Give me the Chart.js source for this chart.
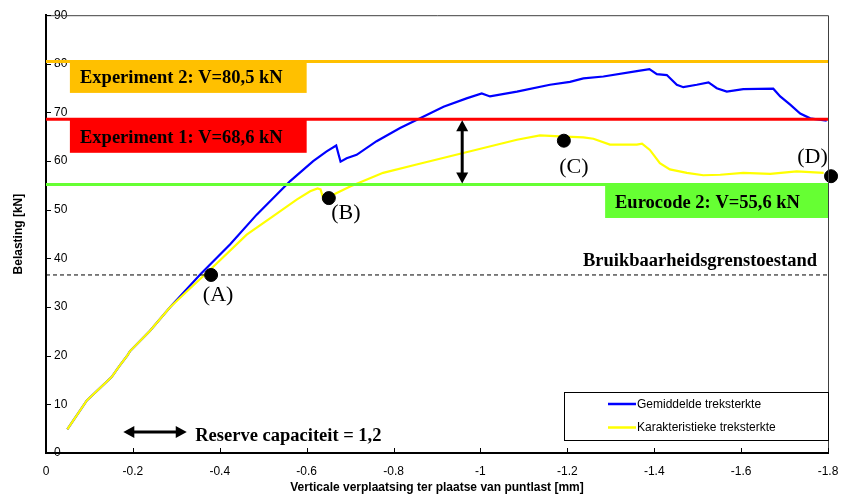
<!DOCTYPE html>
<html><head><meta charset="utf-8">
<script src="https://cdn.jsdelivr.net/npm/chart.js@4/dist/chart.umd.min.js"></script>
<style>html,body{margin:0;padding:0;background:#fff;}canvas{display:block;}</style>
</head><body>
<canvas id="c" width="841" height="499"></canvas>
<script>
// ---- data ----
const xTickValues = [0, -0.2, -0.4, -0.6, -0.8, -1, -1.2, -1.4, -1.6, -1.8];
const yTickValues = [0, 10, 20, 30, 40, 50, 60, 70, 80, 90];
const seriesNames = ['Gemiddelde treksterkte', 'Karakteristieke treksterkte'];

const blueX = [-0.049,-0.094,-0.151,-0.170,-0.187,-0.193,-0.239,-0.285,-0.320,-0.356,-0.424,-0.485,-0.562,-0.615,-0.646,-0.668,-0.673,-0.678,-0.692,-0.715,-0.761,-0.815,-0.861,-0.915,-0.968,-1.003,-1.022,-1.084,-1.160,-1.206,-1.237,-1.283,-1.360,-1.389,-1.406,-1.429,-1.452,-1.467,-1.498,-1.525,-1.544,-1.567,-1.605,-1.674,-1.690,-1.713,-1.736,-1.759,-1.797];
const blueY = [4.85,10.8,15.6,18.0,20.0,20.9,25.1,29.9,33.3,36.8,42.9,49.0,55.9,60.0,62.0,63.2,61.5,59.9,60.6,61.3,64.1,66.8,68.8,71.2,72.9,73.9,73.3,74.3,75.7,76.3,77.0,77.4,78.5,78.9,77.9,77.7,75.7,75.2,75.7,76.2,75.0,74.3,74.8,74.9,73.3,71.6,69.8,68.8,68.3];

const yellowX = [-0.049,-0.094,-0.151,-0.170,-0.187,-0.193,-0.239,-0.285,-0.330,-0.385,-0.462,-0.523,-0.577,-0.608,-0.625,-0.632,-0.639,-0.661,-0.700,-0.776,-0.853,-0.930,-1.007,-1.084,-1.137,-1.183,-1.237,-1.260,-1.298,-1.360,-1.372,-1.390,-1.413,-1.436,-1.475,-1.513,-1.552,-1.605,-1.667,-1.728,-1.790];
const yellowY = [4.85,10.8,15.6,18.0,20.0,20.9,25.1,29.9,33.7,38.3,44.9,48.7,52.1,53.8,54.4,54.2,52.1,53.1,54.8,57.6,59.3,61.0,62.7,64.4,65.3,65.1,64.9,64.6,63.4,63.4,63.6,62.3,59.6,58.3,57.6,57.1,57.2,57.6,57.4,57.9,57.6];

const refLabels = ['Experiment 2: V=80,5 kN', 'Experiment 1: V=68,6 kN', 'Eurocode 2: V=55,6 kN'];
const refValues = [80.5, 68.6, 55.2];
const refColors = ['#FFC000', '#FF0000', '#66FF33'];

const slsLabel = 'Bruikbaarheidsgrenstoestand';
const slsValue = 36.6;

const pointLabels = ['(A)', '(B)', '(C)', '(D)'];
const pointX = [-0.380, -0.651, -1.192, -1.807];
const pointY = [36.6, 52.4, 64.2, 56.9];

const reserveLabel = 'Reserve capaciteit = 1,2';
const reserveArrowX = [-0.178, -0.324];
const reserveArrowY = 4.3;
const gapArrowX = -0.958;

const xTitle = 'Verticale verplaatsing ter plaatse van puntlast [mm]';
const yTitle = 'Belasting [kN]';

// ---- build ----
const pts = (xs, ys) => xs.map((x, i) => ({x, y: ys[i]}));
const hline = v => [{x: 0, y: v}, {x: -1.8, y: v}];

const serif = '"Liberation Serif", "Times New Roman", serif';
const sans = '"Liberation Sans", Arial, sans-serif';

function arrowHead(ctx, x, y, dx, dy, len, half) {
  const px = -dy, py = dx;
  ctx.beginPath();
  ctx.moveTo(x, y);
  ctx.lineTo(x - dx * len + px * half, y - dy * len + py * half);
  ctx.lineTo(x - dx * len - px * half, y - dy * len - py * half);
  ctx.closePath();
  ctx.fill();
}

const annot = {
  id: 'annot',
  afterDatasetsDraw(chart) {
    const ctx = chart.ctx, xs = chart.scales.x, ys = chart.scales.y, ca = chart.chartArea;
    ctx.save();
    const boxDefs = [
      {x0: xs.getPixelForValue(-0.055), x1: xs.getPixelForValue(-0.6), h: 32.5, tx: 80, base: 23},
      {x0: xs.getPixelForValue(-0.055), x1: xs.getPixelForValue(-0.6), h: 34.5, tx: 80, base: 25},
      {x0: xs.getPixelForValue(-1.287), x1: ca.right, h: 34.5, tx: 615, base: 25}
    ];
    boxDefs.forEach((b, i) => {
      const top = ys.getPixelForValue(refValues[i]) - 1;
      ctx.fillStyle = refColors[i];
      ctx.fillRect(b.x0, top, b.x1 - b.x0, b.h);
      ctx.fillStyle = '#000';
      ctx.font = 'bold 18.5px ' + serif;
      ctx.textAlign = 'left';
      ctx.textBaseline = 'alphabetic';
      ctx.fillText(refLabels[i], b.tx, top + b.base);
    });
    ctx.font = 'bold 18.5px ' + serif;
    ctx.textAlign = 'right';
    ctx.fillText(slsLabel, ca.right - 11, ys.getPixelForValue(slsValue) - 8.5);
    const offs = [[7, 20], [17, 15], [10, 27], [-18.5, -19]];
    ctx.font = '22px ' + serif;
    ctx.textAlign = 'center';
    ctx.textBaseline = 'middle';
    pointLabels.forEach((l, i) => {
      ctx.fillText(l, xs.getPixelForValue(pointX[i]) + offs[i][0], ys.getPixelForValue(pointY[i]) + offs[i][1]);
    });
    ctx.strokeStyle = '#000'; ctx.fillStyle = '#000'; ctx.lineWidth = 3;
    const ax0 = xs.getPixelForValue(reserveArrowX[0]), ax1 = xs.getPixelForValue(reserveArrowX[1]);
    const ay = ys.getPixelForValue(reserveArrowY);
    ctx.beginPath(); ctx.moveTo(ax0 + 8, ay); ctx.lineTo(ax1 - 8, ay); ctx.stroke();
    arrowHead(ctx, ax0, ay, -1, 0, 11, 6);
    arrowHead(ctx, ax1, ay, 1, 0, 11, 6);
    ctx.font = 'bold 18.5px ' + serif;
    ctx.textAlign = 'left';
    ctx.textBaseline = 'alphabetic';
    ctx.fillText(reserveLabel, ax1 + 8.5, ay + 8.5);
    const gx = xs.getPixelForValue(gapArrowX);
    const gy0 = ys.getPixelForValue(refValues[1]) + 1, gy1 = ys.getPixelForValue(refValues[2]) - 1;
    ctx.beginPath(); ctx.moveTo(gx, gy0 + 8); ctx.lineTo(gx, gy1 - 8); ctx.stroke();
    arrowHead(ctx, gx, gy0, 0, -1, 11, 6);
    arrowHead(ctx, gx, gy1, 0, 1, 11, 6);
    ctx.restore();
  },
  afterDraw(chart) {
    const ctx = chart.ctx, xs = chart.scales.x, ys = chart.scales.y, ca = chart.chartArea;
    ctx.save();
    ctx.strokeStyle = '#404040'; ctx.lineWidth = 1;
    ctx.beginPath();
    ctx.moveTo(ca.left, ca.top + 0.5); ctx.lineTo(ca.right + 0.5, ca.top + 0.5); ctx.lineTo(ca.right + 0.5, ca.bottom);
    ctx.stroke();
    ctx.strokeStyle = '#000'; ctx.lineWidth = 1;
    ctx.beginPath();
    yTickValues.forEach(v => { const y = Math.round(ys.getPixelForValue(v)) + 0.5; ctx.moveTo(ca.left, y); ctx.lineTo(ca.left + 5, y); });
    xTickValues.forEach(v => { const x = Math.round(xs.getPixelForValue(v)) + 0.5; ctx.moveTo(x, ca.bottom); ctx.lineTo(x, ca.bottom - 5); });
    ctx.stroke();
    const lx0 = 564.5, lx1 = ca.right + 0.5, ly0 = 392.5, ly1 = 440.5;
    ctx.fillStyle = '#fff';
    ctx.fillRect(lx0, ly0, lx1 - lx0, ly1 - ly0);
    ctx.strokeStyle = '#000';
    ctx.strokeRect(lx0, ly0, lx1 - lx0, ly1 - ly0);
    const legColors = ['#0000FF', '#FFFF00'];
    const legY = [404, 427.5];
    ctx.font = '12px ' + sans;
    ctx.textAlign = 'left'; ctx.textBaseline = 'middle';
    seriesNames.forEach((n, i) => {
      ctx.strokeStyle = legColors[i]; ctx.lineWidth = 2.5;
      ctx.beginPath(); ctx.moveTo(608, legY[i]); ctx.lineTo(636, legY[i]); ctx.stroke();
      ctx.fillStyle = '#000';
      ctx.fillText(n, 637, legY[i] + 0.5);
    });
    ctx.restore();
  }
};

new Chart(document.getElementById('c'), {
  type: 'scatter',
  data: {
    datasets: [
      {label: 'punten', data: pts(pointX, pointY), pointRadius: 6.5, pointHoverRadius: 6.5, backgroundColor: '#000', borderColor: '#000', showLine: false, clip: false},
      {label: refLabels[0], data: hline(refValues[0]), showLine: true, borderColor: refColors[0], borderWidth: 3, pointRadius: 0},
      {label: refLabels[1], data: hline(refValues[1]), showLine: true, borderColor: refColors[1], borderWidth: 3, pointRadius: 0},
      {label: refLabels[2], data: hline(refValues[2]), showLine: true, borderColor: refColors[2], borderWidth: 3, pointRadius: 0},
      {label: slsLabel, data: hline(slsValue), showLine: true, borderColor: '#000', borderWidth: 1, borderDash: [4, 3], pointRadius: 0},
      {label: seriesNames[1], data: pts(yellowX, yellowY), showLine: true, borderColor: '#FFFF00', borderWidth: 2.2, pointRadius: 0, tension: 0},
      {label: seriesNames[0], data: pts(blueX, blueY), showLine: true, borderColor: '#0000FF', borderWidth: 2.2, pointRadius: 0, tension: 0}
    ]
  },
  options: {
    responsive: false,
    animation: false,
    devicePixelRatio: 1,
    layout: {padding: {left: 0, right: 13, top: 13, bottom: 0}},
    plugins: {legend: {display: false}, tooltip: {enabled: false}},
    scales: {
      x: {
        type: 'linear', min: -1.8, max: 0, reverse: true,
        afterBuildTicks: s => { s.ticks = xTickValues.slice().sort((a, b) => a - b).map(v => ({value: v})); },
        afterFit: s => { s.height = 46; },
        grid: {display: true, drawOnChartArea: false, drawTicks: false},
        border: {display: true, color: '#000', width: 2},
        ticks: {padding: 11, color: '#000', font: {family: sans, size: 12}, maxRotation: 0, autoSkip: false,
          callback: v => String(Math.round(v * 10) / 10)},
        title: {display: true, text: xTitle, color: '#000', font: {family: sans, size: 12, weight: 'bold'}, padding: {top: 0, bottom: 4}}
      },
      y: {
        type: 'linear', min: 0, max: 90,
        afterBuildTicks: s => { s.ticks = yTickValues.map(v => ({value: v})); },
        afterFit: s => { s.width = 46; },
        grid: {display: true, drawOnChartArea: false, drawTicks: false},
        border: {display: true, color: '#000', width: 2},
        ticks: {mirror: true, padding: 8, color: '#000', font: {family: sans, size: 12}},
        title: {display: true, text: yTitle, color: '#000', font: {family: sans, size: 12, weight: 'bold'}, padding: {top: 11, bottom: 0}}
      }
    }
  },
  plugins: [annot]
});
</script>
</body></html>
